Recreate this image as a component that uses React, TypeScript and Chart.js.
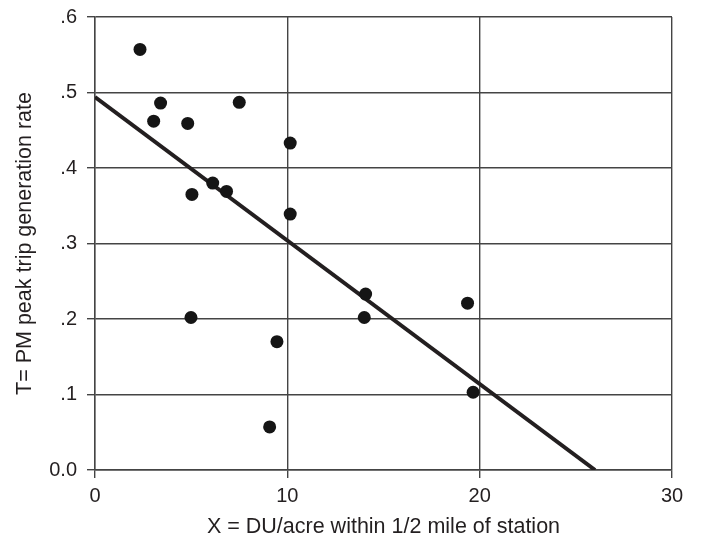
import React, { useEffect, useRef } from "react";
import { Chart, registerables } from "chart.js";

Chart.register(...registerables);

const dwellingDensity = [2.34, 3.41, 3.05, 4.82, 7.5, 10.15, 6.12, 6.84, 5.04, 10.15, 4.99, 9.46, 9.08, 14.0, 14.07, 19.37, 19.66];
const tripRate = [0.557, 0.486, 0.462, 0.459, 0.487, 0.433, 0.38, 0.369, 0.365, 0.339, 0.202, 0.17, 0.057, 0.202, 0.233, 0.221, 0.103];
const fitX = [0, 26];
const fitY = [0.494, 0];
const xTickLabels = ["0", "10", "20", "30"];
const yTickLabels = ["0.0", ".1", ".2", ".3", ".4", ".5", ".6"];

const FONT = "'Liberation Sans', Arial, Helvetica, sans-serif";
const INK = "#231f20";
const GRID = "#444444";

export default function App() {
  const ref = useRef<HTMLCanvasElement | null>(null);
  useEffect(() => {
    if (!ref.current) return;
    const chart = new Chart(ref.current, {
      type: "scatter",
      data: {
        datasets: [
          {
            data: dwellingDensity.map((x, i) => ({ x, y: tripRate[i] })),
            backgroundColor: "#151515",
            borderColor: "#151515",
            pointRadius: 6.5,
            pointBorderWidth: 0,
          },
          {
            data: fitX.map((x, i) => ({ x, y: fitY[i] })),
            showLine: true,
            borderColor: INK,
            borderWidth: 4,
            pointRadius: 0,
            borderCapStyle: "butt",
          } as any,
        ],
      },
      options: {
        responsive: false,
        animation: false,
        events: [],
        layout: { padding: { top: 17, right: 29, left: 0, bottom: 0 } },
        plugins: { legend: { display: false }, tooltip: { enabled: false } },
        scales: {
          x: {
            type: "linear",
            min: 0,
            max: 30,
            afterFit: (s: any) => { s.height = 72; s.paddingLeft = 0; s.paddingRight = 0; },
            ticks: {
              stepSize: 10,
              padding: 6.5,
              color: INK,
              font: { family: FONT, size: 20 },
              callback: (_v: any, i: number) => xTickLabels[i],
              maxRotation: 0,
            },
            grid: { color: GRID, lineWidth: 1.4, tickLength: 8, drawTicks: true },
            border: { color: GRID, width: 1.4 },
            title: {
              display: true,
              text: "X = DU/acre within 1/2 mile of station",
              color: INK,
              font: { family: FONT, size: 21.5 },
              padding: { top: 0, bottom: 1.6 },
            },
          },
          y: {
            type: "linear",
            min: 0,
            max: 0.6,
            afterFit: (s: any) => { s.width = 95; s.paddingTop = 0; s.paddingBottom = 0; },
            ticks: {
              stepSize: 0.1,
              padding: 10,
              color: INK,
              font: { family: FONT, size: 20 },
              callback: (_v: any, i: number) => yTickLabels[i],
            },
            grid: { color: GRID, lineWidth: 1.4, tickLength: 8, drawTicks: true },
            border: { color: GRID, width: 1.4 },
            title: {
              display: true,
              text: "T= PM peak trip generation rate",
              color: INK,
              font: { family: FONT, size: 21.5 },
              padding: { top: 12, bottom: 0 },
            },
          },
        },
      },
      plugins: [
        {
          id: "bg",
          beforeDraw: (c: any) => {
            const ctx = c.ctx;
            ctx.save();
            ctx.fillStyle = "#ffffff";
            ctx.fillRect(0, 0, c.width, c.height);
            ctx.restore();
          },
        },
      ],
    });
    return () => chart.destroy();
  }, []);
  return (
    <div style={{ position: "fixed", left: 0, top: 0, width: 701, height: 542, background: "#fff" }}>
      <canvas ref={ref} width={701} height={542} />
    </div>
  );
}
